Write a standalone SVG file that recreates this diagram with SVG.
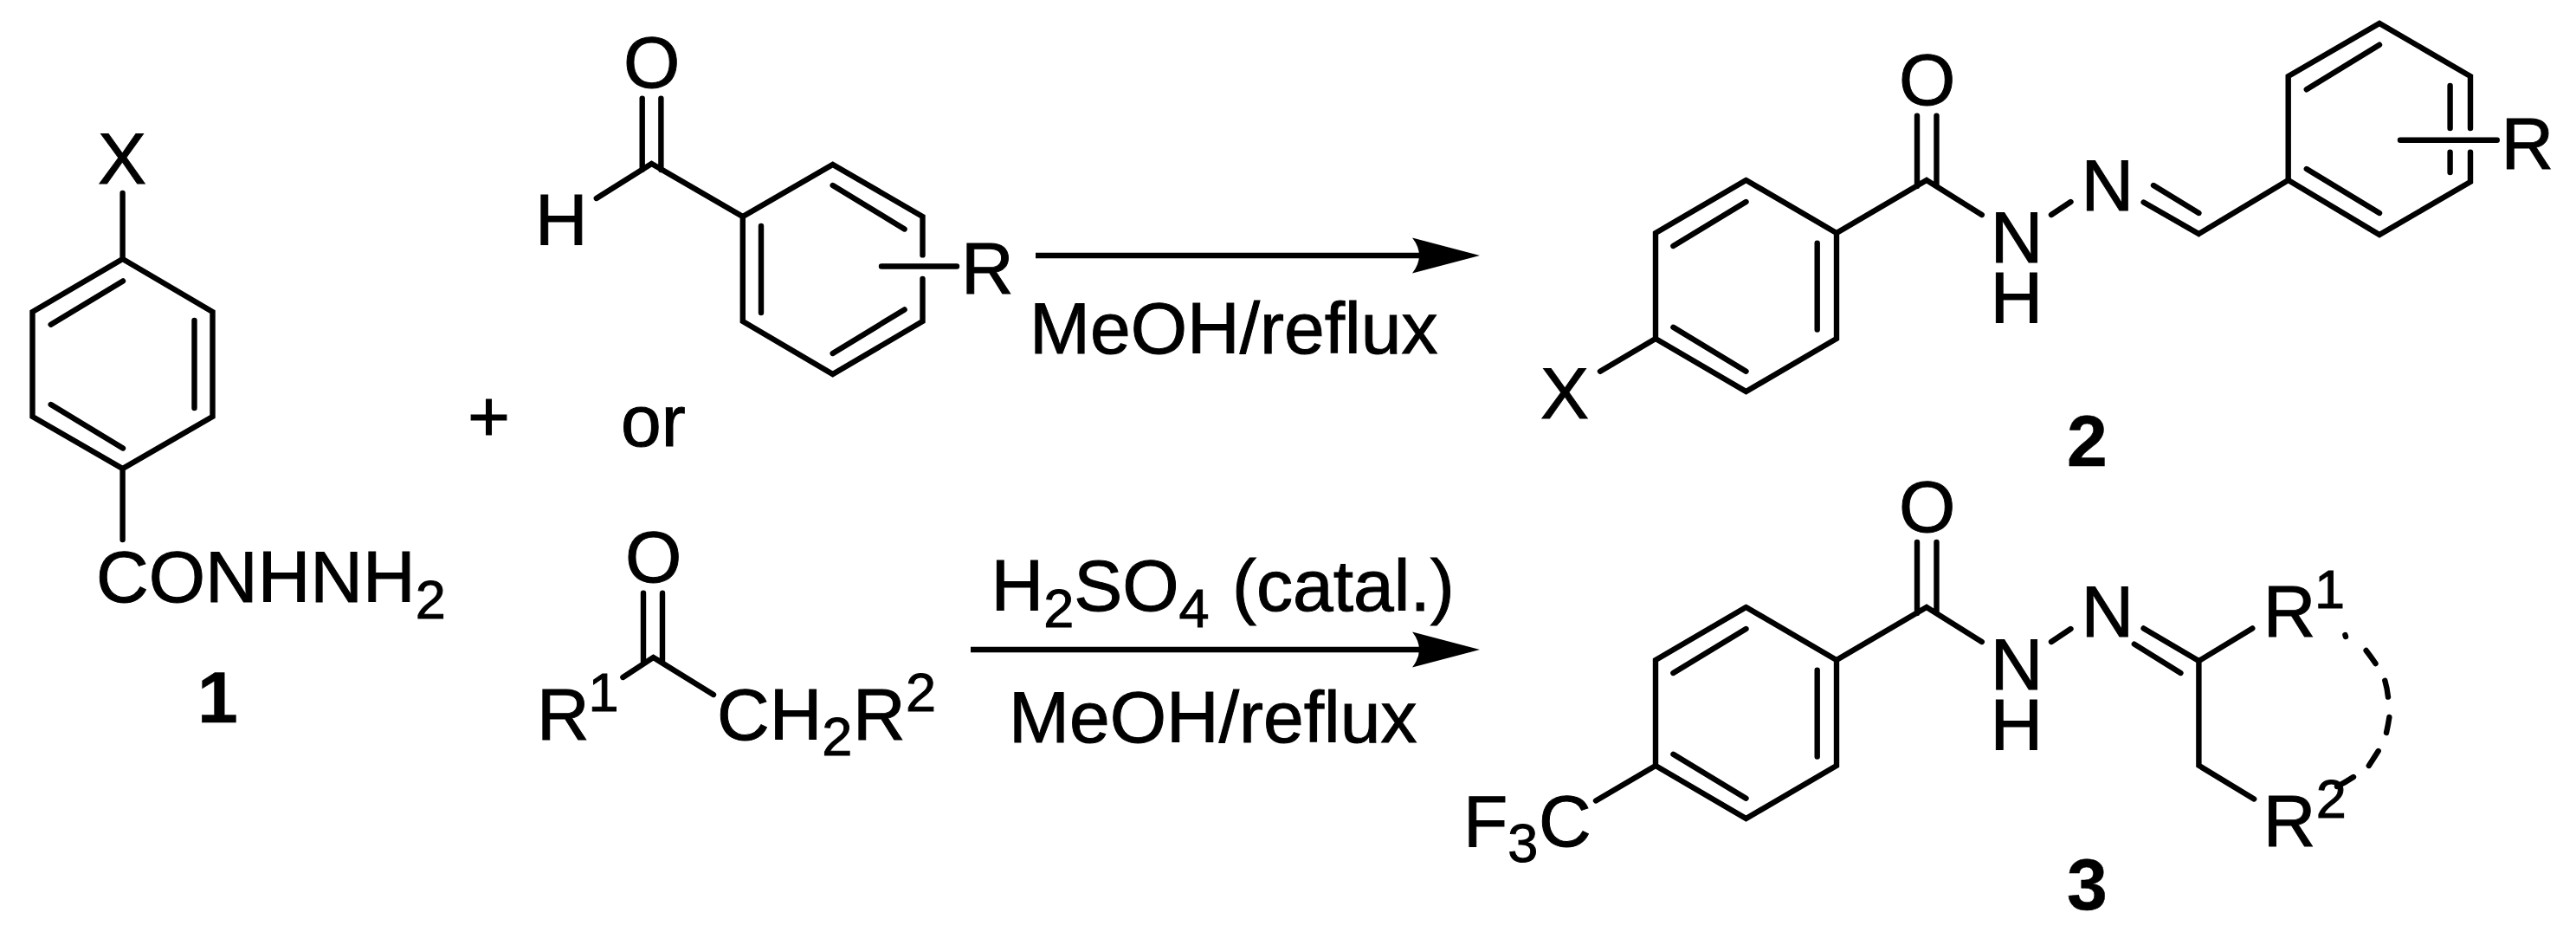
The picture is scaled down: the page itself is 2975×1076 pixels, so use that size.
<svg xmlns="http://www.w3.org/2000/svg" width="2975" height="1076" viewBox="0 0 2975 1076">
<style>
text{font-family:"Liberation Sans",Arial,sans-serif;font-size:84px;fill:#000;stroke:#000;stroke-width:1}
.b{font-weight:bold;stroke-width:0.5}
.s{font-size:63px}
.bond{fill:none;stroke:#000;stroke-width:6.4;stroke-linejoin:miter;stroke-linecap:round}
.arrow{fill:none;stroke:#000;stroke-width:6.5;marker-end:url(#head)}
</style>
<defs>
<marker id="head" markerUnits="userSpaceOnUse" markerWidth="80" markerHeight="44" refX="12" refY="21" orient="auto" overflow="visible">
<path d="M0,0.5 L78,21 L0,41.5 Q16,21 0,0.5 Z" fill="#000"/>
</marker>
</defs>
<rect width="2975" height="1076" fill="#fff"/>
<g id="connectors">
<line class="arrow" x1="1196" y1="295" x2="1643" y2="295"/>
<line class="arrow" x1="1121" y1="750" x2="1643" y2="750"/>
</g>
<g id="compound-1">
<path class="bond" d="M141.6,223V299L245.5,360V481L141.6,541L37.5,481V360L141.6,299M224.5,370V471M58.7,374.7L142,324.4M58.7,467L142,517.5M141.6,541V623"/>
<text x="113" y="212">X</text>
<text x="111" y="695">CONHNH<tspan class="s" dy="19">2</tspan></text>
<text class="b" x="228" y="834">1</text>
</g>
<g id="plus"><text x="540" y="509">+</text></g>
<g id="or"><text x="717" y="515">or</text></g>
<g id="aldehyde">
<path class="bond" d="M741.7,113.6V196M763.4,113.6V196M688.8,229L752.5,189L857.8,250L961.7,190L1065.5,250V294.4M1065.5,322V371L961.7,432L857.8,371V250M879,261V361M961.7,214L1044.6,264.5M961.7,408L1044.6,357.4M1018,307.5H1105"/>
<text x="720" y="101">O</text>
<text x="618" y="283">H</text>
<text x="1110" y="339">R</text>
</g>
<g id="ketone">
<path class="bond" d="M743,684.8V764M765,684.8V764M719.4,782L754.5,759L824,802"/>
<text x="722" y="672">O</text>
<text x="620" y="853.5">R<tspan class="s" x="679.5" y="821">1</tspan></text>
<text x="828" y="853.5">CH<tspan class="s" dy="18">2</tspan><tspan x="985" y="853.5">R</tspan><tspan class="s" x="1046" y="821">2</tspan></text>
</g>
<g id="conditions-1"><text x="1189" y="408">MeOH/reflux</text></g>
<g id="conditions-2">
<text x="1144.5" y="704.7">H<tspan class="s" dy="19">2</tspan><tspan dy="-19">SO</tspan><tspan class="s" dy="19">4</tspan><tspan x="1423" y="704.7">(catal.)</tspan></text>
<text x="1165" y="857">MeOH/reflux</text>
</g>
<g id="compound-2">
<path class="bond" d="M2016.5,208L2121,269V391L2016.5,452L1912,391V269L2016.5,208M1912,391L1848,428.7M1932.4,284L2016.5,233M2098.7,280.6V380.5M1932.4,377.8L2016.5,428.7M2121,269L2225,208L2288.8,248M2214,133.6V215M2236.5,133.6V215M2369,248L2391.5,233M2475.6,233.5L2539.4,270L2642.7,208M2487,214L2539.4,246M2642.7,208V88L2748,27L2853,88V148M2853,175.6V210L2748,271L2642.7,208M2772,161.8H2883.8M2663.8,103.3L2748,51.7M2829.6,99V148M2829.6,175.6V199M2663.8,195L2748,246"/>
<text x="1779" y="483">X</text>
<text x="2193" y="121">O</text>
<text x="2298.8" y="303">N</text>
<text x="2298.5" y="372.6">H</text>
<text x="2403.6" y="242.8">N</text>
<text x="2888.5" y="194.6">R</text>
<text class="b" x="2387" y="538">2</text>
</g>
<g id="compound-3">
<path class="bond" d="M2016.5,701L2121,762V884L2016.5,945L1912,884V762L2016.5,701M1912,884L1843,924.4M1932.4,777L2016.5,726M2098.7,773.6V873.5M1932.4,870.8L2016.5,921.7M2121,762L2225,701L2288.8,741M2214,626V708M2236.5,626V708M2369,741L2391.5,726M2475.6,725.4L2539.4,763L2601.3,725.4M2464.8,743.6L2518.4,777M2539.4,763V883.8L2603.2,922.4"/>
<path class="bond" d="M2708.4,733L2709,735M2732.6,751Q2738,758 2743.5,766M2754.3,785.7Q2757,795 2758,804.6M2759.4,828Q2758,837 2756,846M2746.7,867Q2741,876 2735.8,884M2718,897Q2709,903 2699,908"/>
<text x="1690" y="976.8">F<tspan class="s" dy="18">3</tspan><tspan dy="-18" x="1777">C</tspan></text>
<text x="2193" y="613.5">O</text>
<text x="2298.8" y="796">N</text>
<text x="2298.5" y="865.5">H</text>
<text x="2403.6" y="734.7">N</text>
<text x="2613.7" y="734.7">R<tspan class="s" x="2673" y="702">1</tspan></text>
<text x="2613.7" y="976.8">R<tspan class="s" x="2674.7" y="944">2</tspan></text>
<text class="b" x="2387" y="1050">3</text>
</g>
</svg>
